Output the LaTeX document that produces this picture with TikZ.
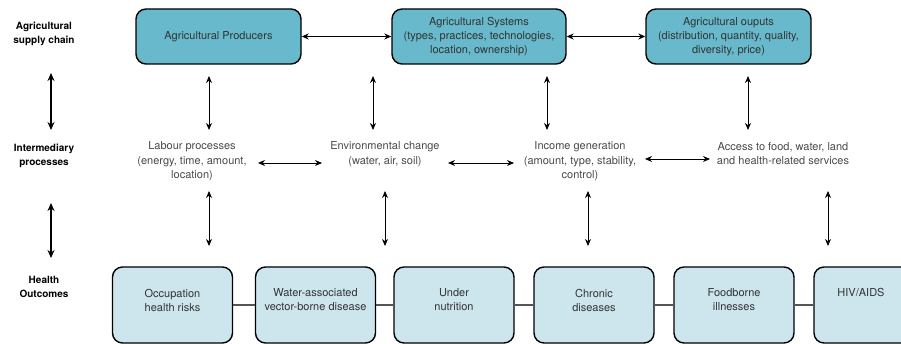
\documentclass[tikz,border=0pt]{standalone}
\usepackage{fontspec}
\setmainfont{TeX Gyre Heros}
\usetikzlibrary{arrows.meta}
\definecolor{topfill}{HTML}{67B9CB}
\definecolor{botfill}{HTML}{CDE6ED}
\definecolor{boxtext}{HTML}{333333}
\definecolor{midtext}{HTML}{4A4A4A}
\definecolor{linkgray}{HTML}{555555}
\tikzset{
  topbox/.style={draw=black, line width=1.4pt, fill=topfill, rounded corners=10pt,
    minimum height=55pt, align=center, text=boxtext, font=\fontsize{11}{14}\selectfont, inner sep=0pt},
  botbox/.style={draw=black, line width=1.4pt, fill=botfill, rounded corners=10pt,
    minimum width=120pt, minimum height=76pt, inner sep=0pt},
  bottext/.style={align=center, text=boxtext, font=\fontsize{11}{14}\selectfont, inner sep=0pt},
  midlabel/.style={align=center, text=midtext, font=\fontsize{11}{14.5}\selectfont, inner sep=0pt},
  sidelabel/.style={align=center, text=black, font=\bfseries\fontsize{10}{14}\selectfont, inner sep=0pt},
  dbl/.style={{Stealth[length=7pt,width=6pt]}-{Stealth[length=7pt,width=6pt]}, line width=0.9pt},
  dblthick/.style={{Stealth[length=8pt,width=7pt]}-{Stealth[length=8pt,width=7pt]}, line width=1.8pt},
  link/.style={draw=linkgray, line width=1.2pt}
}
\begin{document}
\begin{tikzpicture}[x=1pt,y=-1pt]
\clip (0,0) rectangle (901,344);
\fill[white] (0,0) rectangle (901,344);

% side labels
\node[sidelabel] (sl1) at (44,34) {Agricultural\\supply chain};
\node[sidelabel] (sl2) at (44,156) {Intermediary\\processes};
\node[sidelabel] (sl3) at (44,286.5) {Health\\Outcomes};
\coordinate (la1) at (51,73);
\coordinate (la2) at (51,130);
\coordinate (la3) at (51,203);
\coordinate (la4) at (51,258);
\draw[dblthick] (la1) -- (la2);
\draw[dblthick] (la3) -- (la4);

% top boxes
\node[topbox, minimum width=165pt] (prod) at (218.5,36.5) {Agricultural Producers};
\node[topbox, minimum width=174pt] (sys) at (479,36.5) {Agricultural Systems\\(types, practices, technologies,\\location, ownership)};
\node[topbox, minimum width=165pt] (outp) at (728.5,36.5) {Agricultural ouputs\\(distribution, quantity, quality,\\diversity, price)};
\draw[dbl] (prod.east) -- (sys.west);
\draw[dbl] (sys.east) -- (outp.west);

% middle labels
\node[midlabel] (lab) at (192,161.5) {Labour processes\\(energy, time, amount,\\location)};
\node[midlabel] (env) at (385,154) {Environmental change\\(water, air, soil)};
\node[midlabel] (inc) at (580,161.5) {Income generation\\(amount, type, stability,\\control)};
\node[midlabel] (acc) at (783,153.5) {Access to food, water, land\\and health-related services};

% upper vertical arrows
\foreach \x [count=\i] in {209,373,547,748}{
  \coordinate (ua\i) at (\x,76);
  \coordinate (ub\i) at (\x,130);
  \draw[dbl] (ua\i) -- (ub\i);
}

% middle horizontal arrows
\coordinate (h1a) at (258,163); \coordinate (h1b) at (322,163);
\coordinate (h2a) at (448,163); \coordinate (h2b) at (514,163);
\coordinate (h3a) at (645,159); \coordinate (h3b) at (710,159);
\draw[dbl] (h1a) -- (h1b);
\draw[dbl] (h2a) -- (h2b);
\draw[dbl] (h3a) -- (h3b);

% lower vertical arrows
\foreach \x [count=\i] in {209,385,588,828}{
  \coordinate (da\i) at (\x,191);
  \coordinate (db\i) at (\x,246);
  \draw[dbl] (da\i) -- (db\i);
}

% bottom boxes
\node[botbox] (b1) at (172.5,305) {};
\node[botbox] (b2) at (315.5,305) {};
\node[botbox] (b3) at (454,305) {};
\node[botbox] (b4) at (594,305) {};
\node[botbox] (b5) at (734,305) {};
\node[botbox] (b6) at (874,305) {};
\draw[link] (b1.east) -- (b2.west);
\draw[link] (b2.east) -- (b3.west);
\draw[link] (b3.east) -- (b4.west);
\draw[link] (b4.east) -- (b5.west);
\draw[link] (b5.east) -- (b6.west);

\node[bottext] (t1) at (172.5,300) {Occupation\\health risks};
\node[bottext] (t2) at (315.5,300) {Water-associated\\vector-borne disease};
\node[bottext] (t3) at (454,300) {Under\\nutrition};
\node[bottext] (t4) at (594,300) {Chronic\\diseases};
\node[bottext] (t5) at (734,300) {Foodborne\\illnesses};
\node[bottext] (t6) at (861,293) {HIV/AIDS};
\end{tikzpicture}
\end{document}
